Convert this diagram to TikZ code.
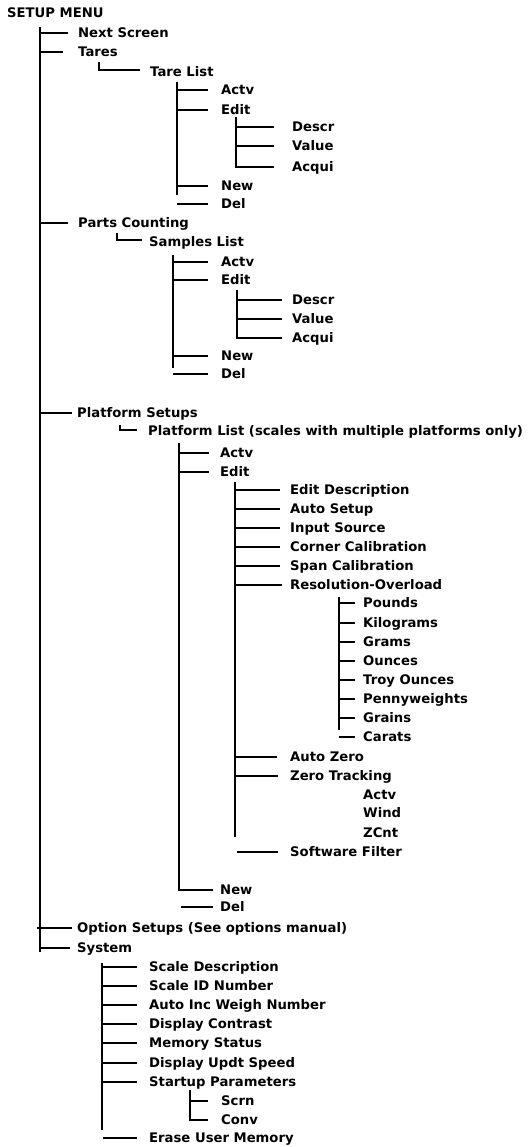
\documentclass[tikz,border=0pt]{standalone}
\usepackage{fontspec}
\setmainfont{DejaVu Sans}
\begin{document}
\begin{tikzpicture}[x=1pt,y=-1pt,
  item/.style={anchor=west, inner sep=0pt, text height=9.6pt, text depth=0pt,
    font=\fontsize{13.2}{15}\selectfont\bfseries},
  conn/.style={line width=1.1pt, line cap=butt},
  trunk/.style={line width=1.4pt}]
\useasboundingbox (0,0) rectangle (527,1147);
% ---- texts
\node[item] (title) at (7,13) {SETUP MENU};
\node[item] (next) at (78,33) {Next Screen};
\node[item] (tares) at (78,52) {Tares};
\node[item] (tlist) at (150,72) {Tare List};
\node[item] (ta) at (221,90) {Actv};
\node[item] (te) at (221,110) {Edit};
\node[item] (tde) at (292,127) {Descr};
\node[item] (tva) at (292,146) {Value};
\node[item] (tac) at (292,167) {Acqui};
\node[item] (tn) at (221,186) {New};
\node[item] (td) at (221,204) {Del};
\node[item] (parts) at (78,223) {Parts Counting};
\node[item] (slist) at (149,242) {Samples List};
\node[item] (sa) at (221,262) {Actv};
\node[item] (se) at (221,280) {Edit};
\node[item] (sde) at (292,300) {Descr};
\node[item] (sva) at (292,319) {Value};
\node[item] (sac) at (292,338) {Acqui};
\node[item] (sn) at (221,356) {New};
\node[item] (sd) at (221,374) {Del};
\node[item] (plat) at (77,413) {Platform Setups};
\node[item] (plist) at (148,431) {Platform List (scales with multiple platforms only)};
\node[item] (pa) at (220,453) {Actv};
\node[item] (pe) at (220,472) {Edit};
\node[item] (ed) at (290,490) {Edit Description};
\node[item] (as) at (290,509) {Auto Setup};
\node[item] (is) at (290,528) {Input Source};
\node[item] (cc) at (290,547) {Corner Calibration};
\node[item] (sc) at (290,566) {Span Calibration};
\node[item] (ro) at (290,585) {Resolution-Overload};
\node[item] (u1) at (363,603) {Pounds};
\node[item] (u2) at (363,623) {Kilograms};
\node[item] (u3) at (363,642) {Grams};
\node[item] (u4) at (363,661) {Ounces};
\node[item] (u5) at (363,680) {Troy Ounces};
\node[item] (u6) at (363,699) {Pennyweights};
\node[item] (u7) at (363,718) {Grains};
\node[item] (u8) at (363,737) {Carats};
\node[item] (az) at (290,757) {Auto Zero};
\node[item] (zt) at (290,776) {Zero Tracking};
\node[item] (z1) at (363,795) {Actv};
\node[item] (z2) at (363,813) {Wind};
\node[item] (z3) at (363,833) {ZCnt};
\node[item] (sf) at (290,852) {Software Filter};
\node[item] (pn) at (220,890) {New};
\node[item] (pd) at (220,907) {Del};
\node[item] (opt) at (77,928) {Option Setups (See options manual)};
\node[item] (sys) at (77,948) {System};
\node[item] (y1) at (149,967) {Scale Description};
\node[item] (y2) at (149,986) {Scale ID Number};
\node[item] (y3) at (149,1005) {Auto Inc Weigh Number};
\node[item] (y4) at (149,1024) {Display Contrast};
\node[item] (y5) at (149,1043) {Memory Status};
\node[item] (y6) at (149,1063) {Display Updt Speed};
\node[item] (y7) at (149,1082) {Startup Parameters};
\node[item] (scrn) at (221,1101) {Scrn};
\node[item] (conv) at (221,1120) {Conv};
\node[item] (erase) at (149,1138) {Erase User Memory};
% ---- trunk coordinates
\coordinate (mT) at (40,27);   \coordinate (mB) at (40,952);
\coordinate (tT) at (177,82);  \coordinate (tB) at (177,195);
\coordinate (teT) at (236,117);
\coordinate (sT) at (173,255); \coordinate (sB) at (173,368);
\coordinate (seT) at (237,290);
\coordinate (pT) at (179,443);
\coordinate (peT) at (235,482); \coordinate (peB) at (235,837);
\coordinate (rT) at (339,597); \coordinate (rB) at (339,730);
\coordinate (yT) at (102,963); \coordinate (yB) at (102,1130);
\coordinate (kT) at (190,1090);
% ---- main trunk
\draw[trunk] (mT) -- (mB);
\draw[conn] (mT |- next.west) -- ([xshift=-10pt]next.west);
\draw[conn] (mT |- tares.west) -- ([xshift=-15pt]tares.west);
\draw[conn] (mT |- parts.west) -- ([xshift=-10pt]parts.west);
\draw[conn] (mT |- plat.west) -- ([xshift=-5pt]plat.west);
\draw[conn] ([xshift=-3pt]mT |- opt.west) -- ([xshift=-5pt]opt.west);
\draw[conn] (mT |- sys.west) -- ([xshift=-7pt]sys.west);
% ---- Tares
\draw[conn] ([xshift=-51pt,yshift=10pt]tlist.west) |- ([xshift=-10pt,yshift=2pt]tlist.west);
\draw[conn] (tT) -- (tB);
\draw[conn] (tT |- ta.west) -- ([xshift=-13pt]ta.west);
\draw[conn] (tT |- te.west) -- ([xshift=-13pt]te.west);
\draw[conn] (tT |- tn.west) -- ([xshift=-13pt]tn.west);
\draw[conn] (tT |- td.west) -- ([xshift=-13pt]td.west);
\draw[conn] (teT) -- (teT |- tac.west) -- ([xshift=-18pt]tac.west);
\draw[conn] (teT |- tde.west) -- ([xshift=-18pt]tde.west);
\draw[conn] (teT |- tva.west) -- ([xshift=-18pt]tva.west);
% ---- Parts Counting
\draw[conn] ([xshift=-32pt,yshift=9pt]slist.west) |- ([xshift=-7pt,yshift=2pt]slist.west);
\draw[conn] (sT) -- (sB);
\draw[conn] (sT |- sa.west) -- ([xshift=-13pt]sa.west);
\draw[conn] (sT |- se.west) -- ([xshift=-13pt]se.west);
\draw[conn] (sT |- sn.west) -- ([xshift=-13pt]sn.west);
\draw[conn] (sT |- sd.west) -- ([xshift=-13pt]sd.west);
\draw[conn] (seT) -- (seT |- sac.west) -- ([xshift=-10pt]sac.west);
\draw[conn] (seT |- sde.west) -- ([xshift=-10pt]sde.west);
\draw[conn] (seT |- sva.west) -- ([xshift=-10pt]sva.west);
% ---- Platform Setups
\draw[conn] ([xshift=-28pt,yshift=6pt]plist.west) |- ([xshift=-11pt,yshift=1pt]plist.west);
\draw[conn] (pT |- pa.west) -- ([xshift=-11pt]pa.west);
\draw[conn] (pT |- pe.west) -- ([xshift=-11pt]pe.west);
\draw[conn] (pT) -- (pT |- pn.west) -- ([xshift=-7pt]pn.west);
\draw[conn] ([xshift=2pt]pT |- pd.west) -- ([xshift=-7pt]pd.west);
\draw[conn] (peT) -- (peB);
\foreach \n in {ed,as,is,cc,sc}
  \draw[conn] (peT |- \n.west) -- ([xshift=-10pt]\n.west);
\draw[conn] (peT |- ro.west) -- ([xshift=-8pt]ro.west);
\draw[conn] (peT |- az.west) -- ([xshift=-13pt]az.west);
\draw[conn] (peT |- zt.west) -- ([xshift=-12pt]zt.west);
\draw[conn] ([xshift=2pt]peT |- sf.west) -- ([xshift=-12pt]sf.west);
\draw[conn] (rT) -- (rB);
\foreach \n in {u1,u2,u3,u4,u5,u6,u7,u8}
  \draw[conn] (rT |- \n.west) -- ([xshift=-8pt]\n.west);
% ---- System
\draw[conn] (yT) -- (yB);
\foreach \n in {y1,y2,y3,y4,y5,y6,y7}
  \draw[conn] (yT |- \n.west) -- ([xshift=-12pt]\n.west);
\draw[conn] ([xshift=1pt]yT |- erase.west) -- ([xshift=-12pt]erase.west);
\draw[conn] (kT) -- (kT |- conv.west) -- ([xshift=-13pt]conv.west);
\draw[conn] (kT |- scrn.west) -- ([xshift=-13pt]scrn.west);
\end{tikzpicture}
\end{document}
